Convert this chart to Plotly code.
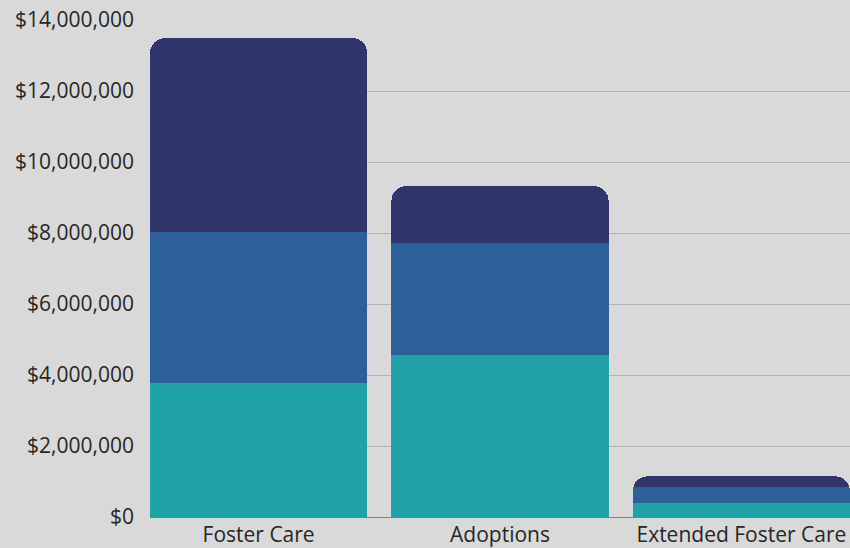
import plotly.graph_objects as go

categories = ["Foster Care", "Adoptions", "Extended Foster Care"]
seg1 = [3770000, 4560000, 390000]
seg2 = [4260000, 3160000, 460000]
seg3 = [5460000, 1600000, 300000]
tick_vals = [0, 2000000, 4000000, 6000000, 8000000, 10000000, 12000000, 14000000]
tick_text = ["$0", "$2,000,000", "$4,000,000", "$6,000,000", "$8,000,000", "$10,000,000", "$12,000,000", "$14,000,000"]

colors = ["#1fa3a8", "#2d5f98", "#30356b"]

fig = go.Figure()
for vals, c in zip([seg1, seg2, seg3], colors):
    fig.add_trace(go.Bar(x=categories, y=vals, marker=dict(color=c, line=dict(width=0)), width=0.9))

fig.update_layout(
    barmode="stack",
    barcornerradius=15,
    width=850, height=548,
    margin=dict(l=150, r=0, t=20, b=31),
    paper_bgcolor="#d9d9d9",
    plot_bgcolor="#d9d9d9",
    showlegend=False,
    font=dict(family="Open Sans", size=21, color="#262626"),
)
fig.update_xaxes(range=[-0.45, 2.45], showgrid=False, ticks="", tickfont=dict(size=21),
                 ticklabelstandoff=3, automargin=False)
fig.update_yaxes(range=[0, 14000000], tickvals=tick_vals, ticktext=tick_text,
                 showgrid=True, gridcolor="#b3b3b3", gridwidth=1,
                 zeroline=True, zerolinecolor="#808080", zerolinewidth=1,
                 ticklabelstandoff=15, tickfont=dict(size=21), automargin=False)

fig.write_html("out.html", config={"displayModeBar": False},
               post_script="document.body.style.margin='0';document.body.style.background='#d9d9d9';")
